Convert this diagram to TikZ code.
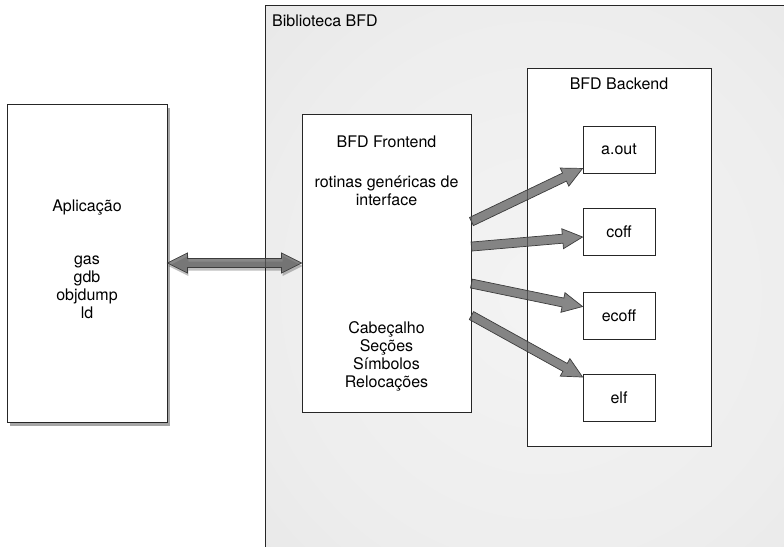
\documentclass[tikz,border=0pt]{standalone}
\usepackage{fontspec}
\setmainfont{TeX Gyre Heros}
\usetikzlibrary{calc,shadows}

% Degrade do fundo da biblioteca
\pgfdeclareradialshading{fundobib}{\pgfpoint{0bp}{0bp}}{%
  rgb(0bp)=(0.955,0.955,0.955); rgb(25bp)=(0.93,0.93,0.93);
  rgb(50bp)=(0.885,0.885,0.885); rgb(72bp)=(0.80,0.80,0.80)}

% Seta grossa simples (da origem #2 ate a ponta #3)
\newcommand{\setagrossa}[3][]{%
  \draw[seta,#1] let \p1=($(#3)-(#2)$), \n1={atan2(\y1,\x1)}, \n2={veclen(\x1,\y1)} in
    ($(#2)+({\n1+90}:4.5pt)$) -- ($(#2)+({\n1}:{\n2-20pt})+({\n1+90}:4.5pt)$)
    -- ($(#2)+({\n1}:{\n2-20pt})+({\n1+90}:10pt)$) -- (#3)
    -- ($(#2)+({\n1}:{\n2-20pt})+({\n1-90}:10pt)$) -- ($(#2)+({\n1}:{\n2-20pt})+({\n1-90}:4.5pt)$)
    -- ($(#2)+({\n1-90}:4.5pt)$) -- cycle;}

% Seta grossa dupla
\newcommand{\setadupla}[3][]{%
  \draw[seta,#1] let \p1=($(#3)-(#2)$), \n1={atan2(\y1,\x1)}, \n2={veclen(\x1,\y1)} in
    (#2) -- ($(#2)+({\n1}:20pt)+({\n1+90}:10pt)$) -- ($(#2)+({\n1}:20pt)+({\n1+90}:4.5pt)$)
    -- ($(#2)+({\n1}:{\n2-20pt})+({\n1+90}:4.5pt)$) -- ($(#2)+({\n1}:{\n2-20pt})+({\n1+90}:10pt)$)
    -- (#3)
    -- ($(#2)+({\n1}:{\n2-20pt})+({\n1-90}:10pt)$) -- ($(#2)+({\n1}:{\n2-20pt})+({\n1-90}:4.5pt)$)
    -- ($(#2)+({\n1}:20pt)+({\n1-90}:4.5pt)$) -- ($(#2)+({\n1}:20pt)+({\n1-90}:10pt)$) -- cycle;}

\begin{document}
\begin{tikzpicture}[x=1pt,y=-1pt,
  caixa/.style={draw=lineDark, line width=0.9pt, fill=white, inner sep=0pt},
  rotulo/.style={font=\fontsize{16}{18}\selectfont, align=center, inner sep=0pt},
  formato/.style={caixa, rotulo, minimum width=72pt, minimum height=47pt},
  seta/.style={fill=arrowGray, fill opacity=0.75, draw=arrowLine, draw opacity=1,
    line width=0.7pt, line join=miter}]

% Cores
\definecolor{lineDark}{HTML}{262626}
\definecolor{arrowGray}{HTML}{606060}
\definecolor{arrowLine}{HTML}{3C3C3C}

\useasboundingbox (0,0) rectangle (784,546);
\clip (0,0) rectangle (784,546);

% Biblioteca BFD
\path[shading=fundobib, shade, draw=lineDark, line width=1pt]
  (265,5) rectangle (820,580);
\node[rotulo, anchor=west] (tbib) at (272,21) {Biblioteca BFD};

% Aplicacao
\node[caixa, minimum width=160pt, minimum height=318pt,
  drop shadow={shadow xshift=3pt, shadow yshift=-4pt, opacity=.35, fill=black}] (app) at (87,263) {};
\node[rotulo] (tapp) at (87,208) {Aplicação};
\node[rotulo] (lapp) at (87,287) {gas\\gdb\\objdump\\ld};

% Frontend
\node[caixa, minimum width=169pt, minimum height=298pt] (front) at (386.5,263) {};
\node[rotulo] (tfront) at (386.5,142) {BFD Frontend};
\node[rotulo] (rot) at (386.5,191) {rotinas genéricas de\\interface};
\node[rotulo] (estr) at (386.5,356) {Cabeçalho\\Seções\\Símbolos\\Relocações};

% Backend
\node[caixa, minimum width=184pt, minimum height=378pt] (back) at (619,257) {};
\node[rotulo] (tback) at (619,84) {BFD Backend};

\foreach \nome/\txt/\y in {aout/a.out/149.5, coff/coff/232, ecoff/ecoff/315.5, elf/elf/398}
  \node[formato] (\nome) at (619,\y) {\txt};

% Pontos das setas
\coordinate (t1) at ($(front.north east)+(0,108)$);
\coordinate (t2) at ($(front.north east)+(0,133)$);
\coordinate (t3) at ($(front.north east)+(0,170)$);
\coordinate (t4) at ($(front.north east)+(0,202)$);
\coordinate (p1) at ($(aout.south west)+(0,-5)$);
\coordinate (p2) at ($(coff.west)+(0,5)$);
\coordinate (p3) at ($(ecoff.north west)+(0,15)$);
\coordinate (p4) at ($(elf.north west)+(0,3)$);

% Setas
\setadupla[drop shadow={shadow xshift=1pt, shadow yshift=-3pt, opacity=.25, fill=black}]{app.east}{front.west}
\setagrossa{t1}{p1}
\setagrossa{t2}{p2}
\setagrossa{t3}{p3}
\setagrossa{t4}{p4}

\end{tikzpicture}
\end{document}
